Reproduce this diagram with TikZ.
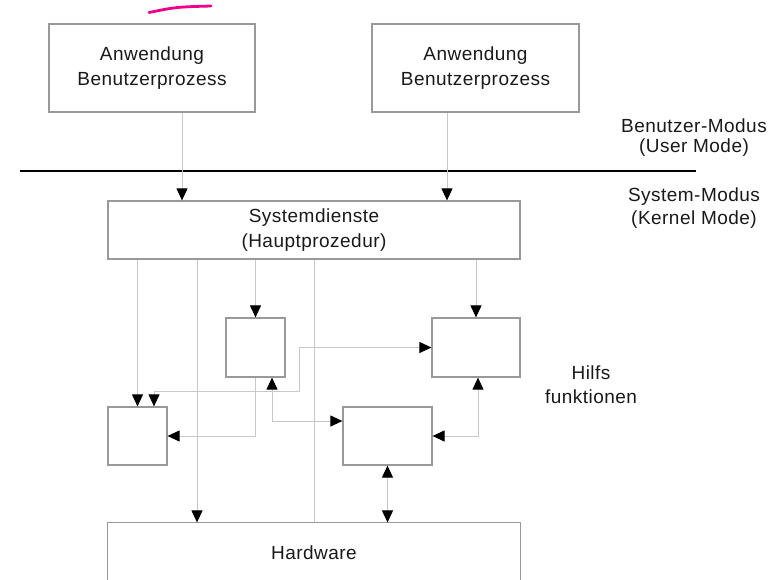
\documentclass[tikz,border=0pt]{standalone}
\usepackage{fontspec}
\setmainfont{Liberation Sans}[LetterSpace=2.5]
\usetikzlibrary{arrows.meta}
\begin{document}
\begin{tikzpicture}[x=1pt,y=-1pt,
  >={Triangle[length=12pt,width=11pt,black]},
  box/.style={draw=black!40,line width=1.2pt,rectangle,inner sep=0pt,
    align=center,font=\fontsize{19}{25}\selectfont,text=black!90},
  conn/.style={draw=black!22,line width=1pt},
  lbl/.style={align=center,text=black!90,inner sep=0pt}]
\useasboundingbox (0,0) rectangle (774,579);

% application processes
\node[box,minimum width=206pt,minimum height=88pt] (app1) at (152,68)
  {Anwendung\\Benutzerprozess};
\node[box,minimum width=207pt,minimum height=88pt] (app2) at (475.5,68)
  {Anwendung\\Benutzerprozess};

% user / kernel boundary
\coordinate (bl) at (20,171);
\coordinate (br) at (696,171);
\draw[black,line width=1.2pt] (bl) -- (br);

% system services
\node[box,minimum width=412pt,minimum height=58pt] (sys) at (314,230)
  {Systemdienste\\(Hauptprozedur)};

% helper functions
\node[box,minimum width=59pt,minimum height=59pt] (ha) at (255.5,347.5) {};
\node[box,minimum width=88pt,minimum height=59pt] (hb) at (476,347.5) {};
\node[box,minimum width=59pt,minimum height=58pt] (hc) at (137.5,436) {};
\node[box,minimum width=89pt,minimum height=58pt] (hd) at (387.5,436) {};

% hardware (open at the bottom)
\node[box,draw=none,minimum width=412pt,minimum height=60pt] (hw) at (314,553)
  {Hardware};
\draw[draw=black!40,line width=1.2pt]
  (hw.south west) -- (hw.north west) -- (hw.north east) -- (hw.south east);

% side labels
\node[lbl,font=\fontsize{19}{19.5}\selectfont] (um) at (694,137.5)
  {Benutzer-Modus\\(User Mode)};
\node[lbl,font=\fontsize{19}{23}\selectfont] (km) at (694,208.5)
  {System-Modus\\(Kernel Mode)};
\node[lbl,font=\fontsize{19}{24}\selectfont] (hf) at (591,385)
  {Hilfs\\funktionen};

% calls into the kernel
\coordinate (j5) at (182,0);
\coordinate (j6) at (447,0);
\draw[conn,->] (app1.south -| j5) -- (sys.north -| j5);
\draw[conn,->] (app2.south -| j6) -- (sys.north -| j6);

% system services to helpers and hardware
\coordinate (j7) at (197,0);
\draw[conn,->] (hc.north |- sys.south) -- (hc.north);
\draw[conn,->] (sys.south -| j7) -- (hw.north -| j7);
\draw[conn,->] (ha.north |- sys.south) -- (ha.north);
\draw[conn] (sys.south) -- (hw.north);
\draw[conn,->] (hb.north |- sys.south) -- (hb.north);

% links between helpers
\draw[conn,->] (ha.south) |- (hc.east);
\coordinate (j1) at (154,391);
\coordinate (j2) at (299,391);
\draw[conn,<->] (hc.north -| j1) -- (j1) -- (j2) |- (hb.west);
\coordinate (j3) at (272,421);
\draw[conn,<->] (ha.south -| j3) -- (j3) -- (hd.west |- j3);
\coordinate (j4) at (478,436);
\draw[conn,<->] (hd.east) -- (j4) -- (j4 |- hb.south);
\draw[conn,<->] (hd.south) -- (hw.north -| hd.south);

% hand-drawn mark
\draw[magenta,line width=2.8pt,line cap=round] (149,12.5) .. controls (176,7) .. (211,6);
\end{tikzpicture}
\end{document}
